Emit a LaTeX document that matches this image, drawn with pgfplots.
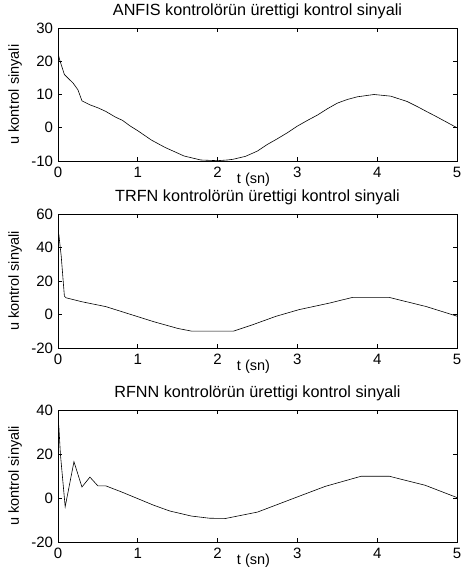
\documentclass[border=0pt]{standalone}
\usepackage{pgfplots}
\pgfplotsset{compat=1.18}
\usepackage{fontspec}
\setmainfont{Liberation Sans}
\begin{document}
\fontsize{14.5}{17}\selectfont
\begin{tikzpicture}
\useasboundingbox (0,0) rectangle (466pt,-571pt);
\pgfplotsset{
  mystyle/.style={
    scale only axis, width=399pt,
    xmin=0, xmax=5, xtick={0,1,2,3,4,5},
    tick align=inside, major tick length=4pt,
    axis line style={black, line width=0.6pt},
    every tick/.style={black, line width=0.6pt},
    /pgf/number format/assume math mode=true,
    tick label style={font=\fontsize{15}{17}\selectfont},
    label style={font=\fontsize{14.5}{17}\selectfont},
    title style={font=\fontsize{16.2}{18}\selectfont, yshift=-2pt},
    xlabel={t (sn)},
    xlabel style={at={(axis description cs:0.49,0)}, anchor=north, yshift=-7pt},
    ylabel={u kontrol sinyali},
    ylabel style={at={(axis description cs:-0.078,0.5)}, anchor=south},
    xticklabel style={yshift=-1pt},
    anchor=north west,
  }
}
\begin{axis}[mystyle, at={(58pt,-28pt)}, height=133pt,
  ymin=-10, ymax=30, ytick={-10,0,10,20,30},
  title={ANFIS kontrolörün ürettigi kontrol sinyali}]
\addplot[black, line width=0.6pt] coordinates {
(0,22.5) (0.02,20.5) (0.08,16) (0.19,13.4) (0.25,11.4) (0.3,8.1) (0.4,6.9)
(0.51,5.9) (0.6,4.9) (0.72,3.2) (0.81,2.2) (0.9,0.6) (1.0,-0.9) (1.17,-3.7)
(1.34,-5.9) (1.58,-8.5) (1.79,-9.7) (2.0,-9.9) (2.12,-9.7) (2.19,-9.5)
(2.35,-8.6) (2.5,-7.0) (2.625,-5.0) (2.75,-3.3) (2.875,-1.5) (3.0,0.5)
(3.125,2.2) (3.25,3.8) (3.375,5.7) (3.5,7.4) (3.625,8.5) (3.75,9.3)
(3.96,10.0) (4.17,9.5) (4.375,7.9) (4.5,6.4) (4.625,4.8) (4.73,3.5)
(4.83,2.2) (5.0,0.0)};
\end{axis}
\begin{axis}[mystyle, at={(58pt,-214pt)}, height=134pt,
  ymin=-20, ymax=60, ytick={-20,0,20,40,60},
  title={TRFN kontrolörün ürettigi kontrol sinyali}]
\addplot[black, line width=0.6pt] coordinates {
(0,35) (0.01,48) (0.04,35) (0.08,11) (0.1,10) (0.3,7.6) (0.6,4.7) (0.8,1.7)
(1.0,-1.3) (1.2,-4.3) (1.5,-8.3) (1.67,-9.9) (2.2,-9.9) (2.44,-6.1)
(2.73,-1.1) (3.02,2.9) (3.4,6.8) (3.69,10.2) (4.15,10.2) (4.61,4.8) (5.0,-1.0)};
\end{axis}
\begin{axis}[mystyle, at={(58pt,-410pt)}, height=132pt,
  ymin=-20, ymax=40, ytick={-20,0,20,40},
  title={RFNN kontrolörün ürettigi kontrol sinyali}]
\addplot[black, line width=0.6pt] coordinates {
(0,25) (0.01,33) (0.03,20) (0.09,-4) (0.2,16.5) (0.3,5) (0.4,9.5) (0.5,5.5)
(0.6,5.5) (0.8,2.7) (1.0,-0.3) (1.2,-3.3) (1.4,-5.9) (1.67,-8.2) (1.9,-9.2)
(2.1,-9.3) (2.5,-6.4) (3.0,0.5) (3.35,5.3) (3.8,9.9) (4.15,9.9) (4.6,5.8) (5.0,0.2)};
\end{axis}
\end{tikzpicture}
\end{document}
